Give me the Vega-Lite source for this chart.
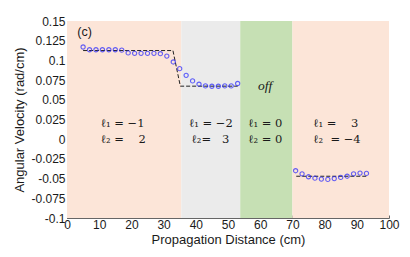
{
  "$schema": "https://vega.github.io/schema/vega-lite/v6.json",
  "width": 322,
  "height": 197,
  "autosize": "none",
  "padding": {"left": 67, "top": 21, "right": 21, "bottom": 39},
  "background": "white",
  "config": {
    "view": {"stroke": null},
    "axis": {"labelFont": "Liberation Sans", "titleFont": "Liberation Sans", "labelFontSize": 12, "titleFontSize": 13, "labelColor": "#1a1a1a", "titleColor": "#1a1a1a", "titleFontWeight": "normal", "grid": false, "domainColor": "#666", "tickColor": "#666", "tickSize": -3, "labelOverlap": false, "labelFlush": false}
  },
  "datasets": {
    "bands": [
      {"z": 0, "z2": 35.5, "region": "a"},
      {"z": 35.5, "z2": 53.8, "region": "b"},
      {"z": 53.8, "z2": 70, "region": "c"},
      {"z": 70, "z2": 100, "region": "d"}
    ],
    "meas": [
      {"z": 5, "w": 0.117}, {"z": 7, "w": 0.1135}, {"z": 9, "w": 0.1135}, {"z": 11, "w": 0.1135},
      {"z": 13, "w": 0.1135}, {"z": 15, "w": 0.1135}, {"z": 17, "w": 0.113}, {"z": 19, "w": 0.1095},
      {"z": 21, "w": 0.109}, {"z": 23, "w": 0.109}, {"z": 25, "w": 0.109}, {"z": 27, "w": 0.109},
      {"z": 29, "w": 0.1085}, {"z": 31, "w": 0.1055}, {"z": 33, "w": 0.098}, {"z": 35, "w": 0.0895},
      {"z": 37, "w": 0.081}, {"z": 39, "w": 0.074}, {"z": 41, "w": 0.0698}, {"z": 43, "w": 0.0676},
      {"z": 45, "w": 0.0672}, {"z": 47, "w": 0.0672}, {"z": 49, "w": 0.0676}, {"z": 51, "w": 0.0676},
      {"z": 53, "w": 0.0707},
      {"z": 71, "w": -0.040}, {"z": 73, "w": -0.044}, {"z": 75, "w": -0.0477}, {"z": 77, "w": -0.0494},
      {"z": 79, "w": -0.0506}, {"z": 81, "w": -0.051}, {"z": 83, "w": -0.050}, {"z": 85, "w": -0.0485},
      {"z": 87, "w": -0.047}, {"z": 89, "w": -0.044}, {"z": 91, "w": -0.043}, {"z": 93, "w": -0.0434}
    ],
    "theory": [
      {"seg": 1, "z": 5, "w": 0.1125}, {"seg": 1, "z": 32.9, "w": 0.1125},
      {"seg": 1, "z": 35.2, "w": 0.0673}, {"seg": 1, "z": 53, "w": 0.0673},
      {"seg": 2, "z": 71.2, "w": -0.047}, {"seg": 2, "z": 93, "w": -0.047}
    ],
    "labels": [
      {"z": 3.2, "w": 0.1357, "t": "(c)", "kind": "sans"},
      {"z": 10.4, "w": 0.019, "t": "ℓ₁ = −1", "kind": "serif"},
      {"z": 10.4, "w": -0.0013, "t": "ℓ₂ =\u00a0\u00a0\u00a0 2", "kind": "serif"},
      {"z": 37.8, "w": 0.019, "t": "ℓ₁ = −2", "kind": "serif"},
      {"z": 38.6, "w": -0.0013, "t": "ℓ₂=\u00a0\u00a0 3", "kind": "serif"},
      {"z": 56.2, "w": 0.019, "t": "ℓ₁ = 0", "kind": "serif"},
      {"z": 56.2, "w": -0.0013, "t": "ℓ₂ = 0", "kind": "serif"},
      {"z": 76.4, "w": 0.019, "t": "ℓ₁ =\u00a0\u00a0\u00a0 3", "kind": "serif"},
      {"z": 76.4, "w": -0.0013, "t": "ℓ₂ \u00a0= −4", "kind": "serif"},
      {"z": 61.5, "w": 0.067, "t": "off", "kind": "italic"}
    ]
  },
  "layer": [
    {
      "data": {"name": "bands"},
      "mark": {"type": "rect", "stroke": null},
      "encoding": {
        "x": {"field": "z", "type": "quantitative", "scale": {"domain": [0, 100], "nice": false, "zero": false},
              "axis": {"values": [0, 10, 20, 30, 40, 50, 60, 70, 80, 90, 100], "labelOverlap": false, "title": "Propagation Distance (cm)", "labelPadding": 4, "titlePadding": 3}},
        "x2": {"field": "z2"},
        "color": {"field": "region", "type": "nominal", "legend": null,
                  "scale": {"domain": ["a", "b", "c", "d"], "range": ["#fce5d8", "#ebebeb", "#c6e0b4", "#fce5d8"]}}
      }
    },
    {
      "encoding": {
        "x": {"field": "z", "type": "quantitative", "scale": {"domain": [0, 100], "nice": false, "zero": false},
              "axis": {"values": [0, 10, 20, 30, 40, 50, 60, 70, 80, 90, 100], "labelOverlap": false, "title": "Propagation Distance (cm)", "labelPadding": 4, "titlePadding": 3}},
        "y": {"field": "w", "type": "quantitative", "scale": {"domain": [-0.1, 0.15], "nice": false, "zero": false},
              "axis": {"values": [-0.1, -0.075, -0.05, -0.025, 0, 0.025, 0.05, 0.075, 0.1, 0.125, 0.15], "labelOverlap": false,
                       "labelExpr": "replace(format(datum.value, '.3~f'), '\u2212', '-')",
                       "title": "Angular Velocity (rad/cm)", "labelPadding": 5, "titlePadding": 4}}
      },
      "layer": [
        {
          "data": {"name": "theory"},
          "mark": {"type": "line", "color": "#222", "strokeWidth": 1, "strokeDash": [4, 2]},
          "encoding": {"detail": {"field": "seg", "type": "nominal"}}
        },
        {
          "data": {"name": "meas"},
          "mark": {"type": "point", "shape": "circle", "filled": false, "color": "#2525ff", "size": 18, "strokeWidth": 1.1},
          "encoding": {}
        },
        {
          "data": {"name": "labels"},
          "transform": [{"filter": "datum.kind == 'serif'"}],
          "mark": {"type": "text", "font": "DejaVu Serif", "fontSize": 11.5, "align": "left", "baseline": "middle", "color": "#1a1a1a"},
          "encoding": {"text": {"field": "t"}}
        },
        {
          "data": {"name": "labels"},
          "transform": [{"filter": "datum.kind == 'sans'"}],
          "mark": {"type": "text", "font": "Liberation Sans", "fontSize": 12.5, "align": "left", "baseline": "middle", "color": "#1a1a1a"},
          "encoding": {"text": {"field": "t"}}
        },
        {
          "data": {"name": "labels"},
          "transform": [{"filter": "datum.kind == 'italic'"}],
          "mark": {"type": "text", "font": "Liberation Serif", "fontSize": 13.5, "fontStyle": "italic", "align": "center", "baseline": "middle", "color": "#1a1a1a"},
          "encoding": {"text": {"field": "t"}}
        }
      ]
    }
  ]
}
